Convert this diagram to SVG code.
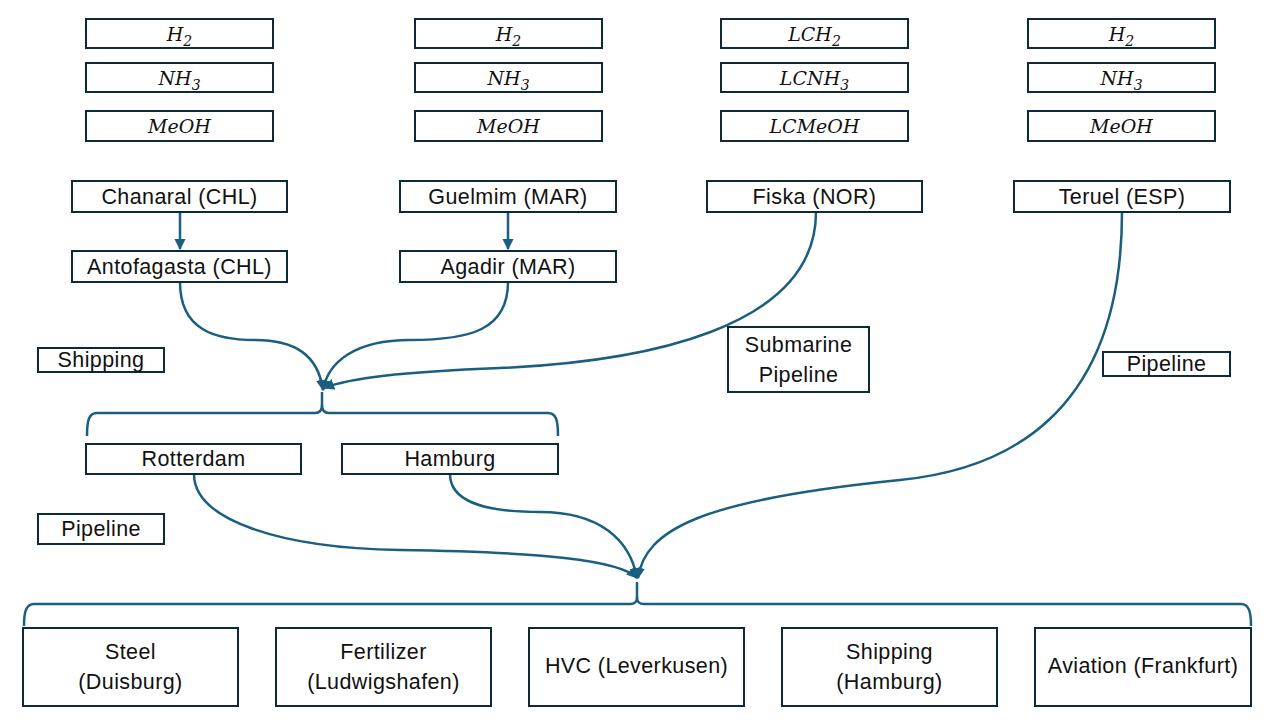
<svg xmlns="http://www.w3.org/2000/svg" width="1280" height="720" viewBox="0 0 1280 720">
<defs>
<marker id="ah" viewBox="0 0 10 10" refX="9" refY="5" markerWidth="4.5" markerHeight="4.5" orient="auto-start-reverse">
<path d="M0,0 L10,5 L0,10 z" fill="#1a5e80"/>
</marker>
<style>
.b{fill:#fff;stroke:#0e2a38;stroke-width:2}
.t{font-family:"Liberation Sans",Arial,sans-serif;font-size:21.5px;letter-spacing:0.4px;fill:#111;text-anchor:middle}
.m{font-family:"DejaVu Serif","Liberation Serif",serif;font-style:italic;font-size:19px;fill:#111;text-anchor:middle}
.s{font-size:14px}
.c{fill:none;stroke:#1a5e80;stroke-width:2.5}
</style>
</defs>
<rect width="1280" height="720" fill="#fff"/>

<g id="formulas">
<g id="f1"><rect class="b" x="86" y="19" width="187" height="29"/><text class="m" x="179.5" y="41">H<tspan class="s" dy="5">2</tspan></text></g>
<g id="f2"><rect class="b" x="86" y="63" width="187" height="29"/><text class="m" x="179.5" y="85">NH<tspan class="s" dy="5">3</tspan></text></g>
<g id="f3"><rect class="b" x="86" y="111" width="187" height="30"/><text class="m" x="179.5" y="133">MeOH</text></g>
<g id="f4"><rect class="b" x="415" y="19" width="187" height="29"/><text class="m" x="508.5" y="41">H<tspan class="s" dy="5">2</tspan></text></g>
<g id="f5"><rect class="b" x="415" y="63" width="187" height="29"/><text class="m" x="508.5" y="85">NH<tspan class="s" dy="5">3</tspan></text></g>
<g id="f6"><rect class="b" x="415" y="111" width="187" height="30"/><text class="m" x="508.5" y="133">MeOH</text></g>
<g id="f7"><rect class="b" x="721" y="19" width="187" height="29"/><text class="m" x="814.5" y="41">LCH<tspan class="s" dy="5">2</tspan></text></g>
<g id="f8"><rect class="b" x="721" y="63" width="187" height="29"/><text class="m" x="814.5" y="85">LCNH<tspan class="s" dy="5">3</tspan></text></g>
<g id="f9"><rect class="b" x="721" y="111" width="187" height="30"/><text class="m" x="814.5" y="133">LCMeOH</text></g>
<g id="f10"><rect class="b" x="1028" y="19" width="187" height="29"/><text class="m" x="1121.5" y="41">H<tspan class="s" dy="5">2</tspan></text></g>
<g id="f11"><rect class="b" x="1028" y="63" width="187" height="29"/><text class="m" x="1121.5" y="85">NH<tspan class="s" dy="5">3</tspan></text></g>
<g id="f12"><rect class="b" x="1028" y="111" width="187" height="30"/><text class="m" x="1121.5" y="133">MeOH</text></g>
</g>

<g id="connectors">
<line class="c" x1="180" y1="212" x2="180" y2="249" marker-end="url(#ah)"/>
<line class="c" x1="508" y1="212" x2="508" y2="249" marker-end="url(#ah)"/>
<path class="c" d="M180,282 C180,330 215,340 255,340 C295,340 318,355 323,390" marker-end="url(#ah)"/>
<path class="c" d="M508,282 C508,330 470,340 410,340 C355,340 328,362 323,390" marker-end="url(#ah)"/>
<path class="c" d="M816,212 C816,330 640,362 500,368 C400,372 350,378 324,388" marker-end="url(#ah)"/>
<path class="c" d="M322,392 L322,405 C322,410 320,413 315,413 L97,413 C89,413 87,420 87,436"/>
<path class="c" d="M322,405 C322,410 324,413 329,413 L548,413 C556,413 558,420 558,436"/>
<path class="c" d="M194,474 C194,520 280,548 400,550 C540,552 620,560 637,578" marker-end="url(#ah)"/>
<path class="c" d="M450,474 C450,500 480,512 540,512 C600,512 630,540 637,578" marker-end="url(#ah)"/>
<path class="c" d="M1122,212 C1122,420 1000,470 900,480 C700,500 645,530 638,578" marker-end="url(#ah)"/>
<path class="c" d="M637,582 L637,597 C637,602 635,604 630,604 L34,604 C26,604 24,612 24,626"/>
<path class="c" d="M637,597 C637,602 639,604 644,604 L1241,604 C1249,604 1251,612 1251,626"/>
</g>

<g id="chanaral"><rect class="b" x="72" y="181" width="215" height="31"/><text class="t" x="179.5" y="204">Chanaral (CHL)</text></g>
<g id="antofagasta"><rect class="b" x="72" y="251" width="215" height="31"/><text class="t" x="179.5" y="274">Antofagasta (CHL)</text></g>
<g id="guelmim"><rect class="b" x="400" y="181" width="216" height="31"/><text class="t" x="508" y="204">Guelmim (MAR)</text></g>
<g id="agadir"><rect class="b" x="400" y="251" width="216" height="31"/><text class="t" x="508" y="274">Agadir (MAR)</text></g>
<g id="fiska"><rect class="b" x="707" y="181" width="215" height="31"/><text class="t" x="814.5" y="204">Fiska (NOR)</text></g>
<g id="teruel"><rect class="b" x="1014" y="181" width="216" height="31"/><text class="t" x="1122" y="204">Teruel (ESP)</text></g>

<g id="lbl-shipping"><rect class="b" x="38" y="348" width="126" height="24"/><text class="t" x="101" y="367">Shipping</text></g>
<g id="lbl-submarine"><rect class="b" x="728" y="327" width="141" height="65"/><text class="t" x="798.5" y="352">Submarine</text><text class="t" x="798.5" y="382">Pipeline</text></g>
<g id="lbl-pipeline-r"><rect class="b" x="1103" y="352" width="127" height="24"/><text class="t" x="1166.5" y="371">Pipeline</text></g>
<g id="lbl-pipeline-l"><rect class="b" x="38" y="514" width="126" height="30"/><text class="t" x="101" y="536">Pipeline</text></g>

<g id="rotterdam"><rect class="b" x="86" y="444" width="215" height="30"/><text class="t" x="193.5" y="466">Rotterdam</text></g>
<g id="hamburg"><rect class="b" x="342" y="444" width="216" height="30"/><text class="t" x="450" y="466">Hamburg</text></g>

<g id="steel"><rect class="b" x="23" y="628" width="215" height="78"/><text class="t" x="130.5" y="659">Steel</text><text class="t" x="130.5" y="689">(Duisburg)</text></g>
<g id="fertilizer"><rect class="b" x="276" y="628" width="215" height="78"/><text class="t" x="383.5" y="659">Fertilizer</text><text class="t" x="383.5" y="689">(Ludwigshafen)</text></g>
<g id="hvc"><rect class="b" x="529" y="628" width="215" height="78"/><text class="t" x="636.5" y="673">HVC (Leverkusen)</text></g>
<g id="shipping"><rect class="b" x="782" y="628" width="215" height="78"/><text class="t" x="889.5" y="659">Shipping</text><text class="t" x="889.5" y="689">(Hamburg)</text></g>
<g id="aviation"><rect class="b" x="1035" y="628" width="216" height="78"/><text class="t" x="1143" y="673">Aviation (Frankfurt)</text></g>
</svg>
